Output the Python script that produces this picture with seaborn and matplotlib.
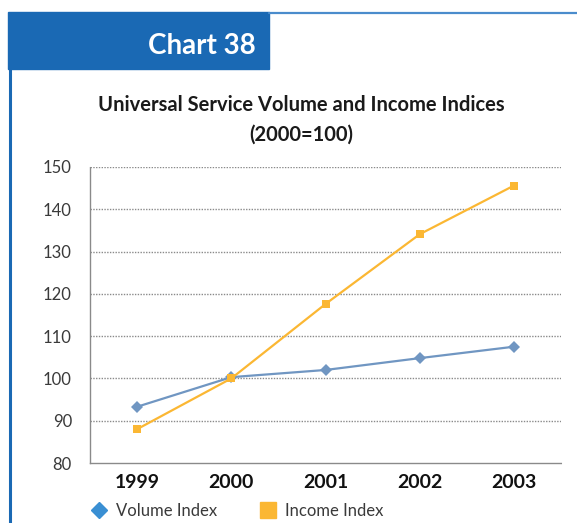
import matplotlib
matplotlib.use("Agg")
import matplotlib.pyplot as plt
from matplotlib.lines import Line2D
from matplotlib.patches import Rectangle
import seaborn as sns
import pandas as pd

years = ["1999", "2000", "2001", "2002", "2003"]
volume_index = [93.3, 100.3, 102.0, 104.8, 107.5]
income_index = [88.0, 100.0, 117.6, 134.1, 145.6]
series_names = ["Volume Index", "Income Index"]
y_ticks = [80, 90, 100, 110, 120, 130, 140, 150]

line_colors = {"Volume Index": "#7096c2", "Income Index": "#fbb733"}
legend_colors = {"Volume Index": "#3a8fd3", "Income Index": "#fbb733"}
header_blue = "#1a69b4"

df = pd.DataFrame({
    "pos": list(range(len(years))) * 2,
    "value": volume_index + income_index,
    "series": [series_names[0]] * len(years) + [series_names[1]] * len(years),
})

sns.set_style("white")
plt.rcParams["font.family"] = ["Lato", "DejaVu Sans"]

fig = plt.figure(figsize=(5.77, 5.23), dpi=100)
W, H = 577, 523

# header box and page border
fig.patches.append(Rectangle((8 / W, 1 - 69 / H), (269 - 8) / W, (69 - 12) / H,
                             transform=fig.transFigure, color=header_blue, zorder=0))
fig.add_artist(Line2D([269 / W, 1], [1 - 13 / H, 1 - 13 / H], transform=fig.transFigure,
                      color="#4a8ccc", lw=1.6))
fig.add_artist(Line2D([10 / W, 10 / W], [0, 1 - 69 / H], transform=fig.transFigure,
                      color=header_blue, lw=2.2))
fig.text(256 / W, 1 - 46 / H, "Chart 38", color="white", fontsize=20,
         fontweight="bold", ha="right", va="center")

fig.text(301 / W, 1 - 105 / H, "Universal Service Volume and Income Indices",
         fontsize=14.5, fontweight="bold", ha="center", va="center", color="#1a1a1a")
fig.text(301 / W, 1 - 135 / H, "(2000=100)",
         fontsize=14.5, fontweight="bold", ha="center", va="center", color="#1a1a1a")

ax = fig.add_axes([90 / W, 1 - 463 / H, (561 - 90) / W, (463 - 167) / H])

sns.lineplot(data=df, x="pos", y="value", hue="series", style="series",
             palette=line_colors, markers={"Volume Index": "D", "Income Index": "s"},
             dashes=False, markersize=6, linewidth=1.6, markeredgewidth=0,
             legend=False, ax=ax)

ax.set_xlim(-0.5, len(years) - 0.5)
ax.set_ylim(y_ticks[0], y_ticks[-1])
ax.set_yticks(y_ticks)
ax.set_yticklabels([str(v) for v in y_ticks], fontsize=12, color="#3a3a3a")
ax.set_xticks(range(len(years)))
ax.set_xticklabels(years, fontsize=14, fontweight="bold", color="#111111")
ax.set_xticks([i - 0.5 for i in range(len(years) + 1)], minor=True)
ax.tick_params(axis="x", which="major", length=0, pad=8)
ax.tick_params(axis="x", which="minor", length=4, color="#888888", direction="out")
ax.tick_params(axis="y", length=5, color="#888888", direction="out", pad=8)
ax.set_xlabel("")
ax.set_ylabel("")

for v in y_ticks[1:]:
    ax.axhline(v, color="#8a8a8a", lw=1.0, ls=(0, (1, 1)), zorder=0)
for side in ["top", "right"]:
    ax.spines[side].set_visible(False)
for side in ["left", "bottom"]:
    ax.spines[side].set_color("#8a8a8a")
    ax.spines[side].set_linestyle((0, (1, 1)))
    ax.spines[side].set_linewidth(1.0)

handles = [
    Line2D([], [], ls="none", marker="D", markersize=8, color=legend_colors["Volume Index"]),
    Line2D([], [], ls="none", marker="s", markersize=12, color=legend_colors["Income Index"]),
]
fig.legend(handles, series_names, loc="center left", bbox_to_anchor=(74 / W, 1 - 511 / H),
           ncol=2, frameon=False, handletextpad=0.4, columnspacing=2.5,
           handlelength=1.2, prop={"size": 12}, labelcolor="#3a3a3a")

fig.savefig("out.png", dpi=100, facecolor="white")
